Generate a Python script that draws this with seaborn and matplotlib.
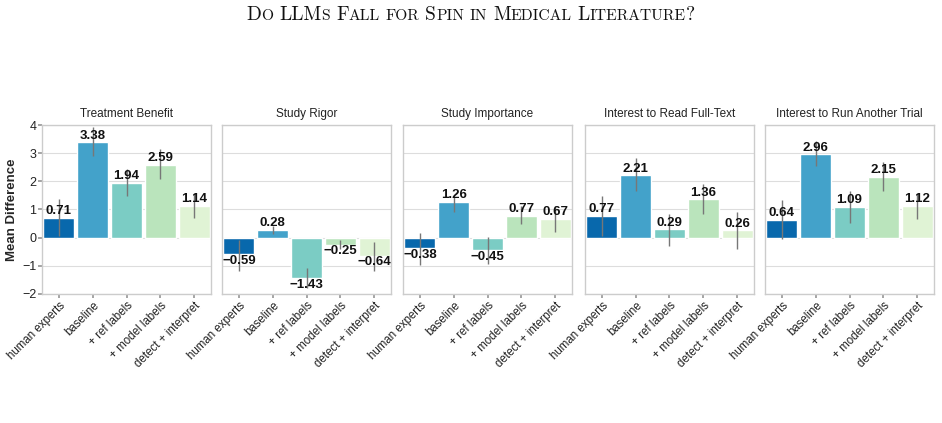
import matplotlib
matplotlib.use("Agg")
import matplotlib.pyplot as plt
import numpy as np
import pandas as pd
import seaborn as sns
from matplotlib.offsetbox import TextArea, HPacker, AnnotationBbox

TITLE = "Do LLMs Fall for Spin in Medical Literature?"

METRICS = [
    "Treatment Benefit",
    "Study Rigor",
    "Study Importance",
    "Interest to Read Full-Text",
    "Interest to Run Another Trial",
]
METHODS = ["human experts", "baseline", "+ ref labels", "+ model labels", "detect + interpret"]
COLORS = ["#0868ac", "#43a2ca", "#7bccc4", "#bae4bc", "#e0f3d5"]

# mean differences, one list per metric (order follows METHODS)
treatment_benefit = [0.71, 3.38, 1.94, 2.59, 1.14]
study_rigor = [-0.59, 0.28, -1.43, -0.25, -0.64]
study_importance = [-0.38, 1.26, -0.45, 0.77, 0.67]
read_full_text = [0.77, 2.21, 0.29, 1.36, 0.26]
run_another_trial = [0.64, 2.96, 1.09, 2.15, 1.12]

# error bar ends (low, high)
treatment_benefit_lo = [0.07, 2.90, 1.49, 2.10, 0.71]
treatment_benefit_hi = [1.37, 3.94, 2.45, 3.14, 1.60]
study_rigor_lo = [-1.17, 0.13, -1.78, -0.42, -1.19]
study_rigor_hi = [-0.08, 0.43, -1.07, -0.08, -0.16]
study_importance_lo = [-0.98, 0.92, -0.95, 0.49, 0.19]
study_importance_hi = [0.17, 1.46, 0.01, 1.14, 1.14]
read_full_text_lo = [0.07, 1.64, -0.29, 0.83, -0.41]
read_full_text_hi = [1.48, 2.84, 0.83, 1.90, 0.90]
run_another_trial_lo = [-0.05, 2.54, 0.53, 1.67, 0.65]
run_another_trial_hi = [1.34, 3.44, 1.67, 2.69, 1.60]

VALUES = [treatment_benefit, study_rigor, study_importance, read_full_text, run_another_trial]
LOWS = [treatment_benefit_lo, study_rigor_lo, study_importance_lo, read_full_text_lo, run_another_trial_lo]
HIGHS = [treatment_benefit_hi, study_rigor_hi, study_importance_hi, read_full_text_hi, run_another_trial_hi]


def small_caps_title(fig, text, xy, big=14.0, small=11.2):
    words = []
    for word in text.split(" "):
        runs, cur, cur_small = [], "", None
        for ch in word:
            is_small = ch.islower()
            if cur_small is not None and is_small != cur_small:
                runs.append((cur, cur_small))
                cur = ""
            cur += ch.upper() if is_small else ch
            cur_small = is_small
        runs.append((cur, cur_small))
        boxes = [TextArea(s, textprops=dict(family="cmr10", size=small if sm else big, color="#111111"))
                 for s, sm in runs]
        words.append(HPacker(children=boxes, pad=0, sep=0, align="baseline"))
    pack = HPacker(children=words, pad=0, sep=4.2, align="baseline")
    ab = AnnotationBbox(pack, xy, xycoords="figure fraction", frameon=False, box_alignment=(0.5, 0.5))
    fig.add_artist(ab)


def main():
    sns.set_theme(style="whitegrid")
    plt.rcParams["font.family"] = ["Liberation Sans", "DejaVu Sans"]

    W, H = 942, 423
    fig = plt.figure(figsize=(W / 100, H / 100), dpi=100)
    lefts = [42, 222, 403, 585, 765]
    pw, top, bottom = 169, 125, 294

    for i, (metric, vals, lo, hi) in enumerate(zip(METRICS, VALUES, LOWS, HIGHS)):
        ax = fig.add_axes([lefts[i] / W, 1 - bottom / H, pw / W, (bottom - top) / H])
        df = pd.DataFrame({"method": METHODS, "value": vals, "lo": lo, "hi": hi})
        sns.barplot(data=df, x="method", y="value", hue="method", palette=COLORS,
                    order=METHODS, hue_order=METHODS, legend=False, width=0.92,
                    errorbar=None, saturation=1, ax=ax, zorder=2)
        x = np.arange(len(METHODS))
        ax.vlines(x, df["lo"], df["hi"], color="#777777", lw=1.0, zorder=4)
        for c in ax.containers:
            labels = [f"{v:.2f}".replace("-", "\u2212") for v in c.datavalues]
            ax.bar_label(c, labels=labels, padding=0.5, fontsize=9.5, fontweight="bold",
                         color="#111111", zorder=5)
        ax.set_ylim(-2, 4)
        ax.set_xlim(-0.5, len(METHODS) - 0.5)
        ax.set_title(metric, fontsize=8.5, pad=6, color="#222222")
        ax.set_xlabel("")
        ax.grid(axis="x", visible=False)
        ax.grid(axis="y", color="#dddddd", lw=0.8, zorder=0)
        ax.set_axisbelow(True)
        for s in ax.spines.values():
            s.set_color("#cccccc")
            s.set_linewidth(1.0)
        ax.tick_params(axis="x", bottom=True, length=3, color="#999999", labelsize=8.3, pad=1,
                       labelcolor="#222222")
        ax.set_xticks(x)
        ax.set_xticklabels(METHODS, rotation=45, ha="right", rotation_mode="anchor")
        ax.set_yticks([-2, -1, 0, 1, 2, 3, 4])
        if i == 0:
            ax.set_ylabel("Mean Difference", fontsize=9.5, fontweight="bold", labelpad=3)
            ax.tick_params(axis="y", left=True, length=3, color="#999999", labelsize=9, pad=1,
                           labelcolor="#222222")
        else:
            ax.set_ylabel("")
            ax.tick_params(axis="y", left=False, labelleft=False)

    small_caps_title(fig, TITLE, (0.5, 1 - 15 / H))
    fig.savefig("out.png", dpi=100, facecolor="white")
    plt.close(fig)


if __name__ == "__main__":
    main()
